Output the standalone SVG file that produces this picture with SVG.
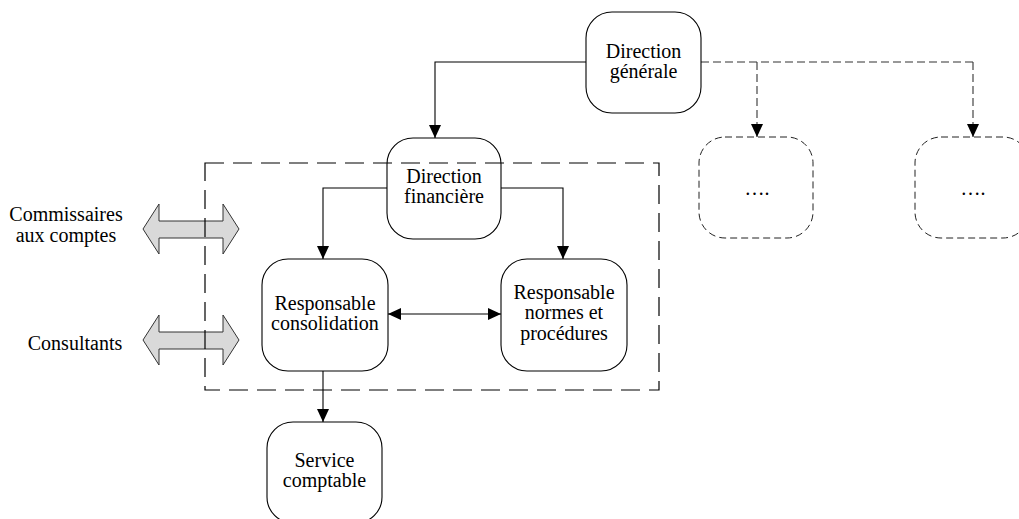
<svg xmlns="http://www.w3.org/2000/svg" width="1019" height="519" viewBox="0 0 1019 519">
  <style>
    .node { fill: #ffffff; stroke: #000; stroke-width: 1.1; }
    .ghost { fill: none; stroke: #222; stroke-width: 1; stroke-dasharray: 7 4; }
    .lbl { font-family: "Liberation Serif", "Times New Roman", serif; font-size: 20px; fill: #000; text-anchor: middle; }
    .wire { fill: none; stroke: #000; stroke-width: 1.1; }
    .wire-dash { fill: none; stroke: #333; stroke-width: 1.1; stroke-dasharray: 8 4; }
    .frame { fill: none; stroke: #000; stroke-width: 1.2; stroke-dasharray: 19 9; }
    .block { fill: #d9d9d9; stroke: #333; stroke-width: 1; }
  </style>
  <defs>
    <marker id="tip" viewBox="0 0 13 12" refX="13" refY="6" markerWidth="13" markerHeight="12" markerUnits="userSpaceOnUse" orient="auto-start-reverse">
      <path d="M0,0 L13,6 L0,12 Z" fill="#000"/>
    </marker>
  </defs>
  <rect width="1019" height="519" fill="#ffffff"/>

  <!-- external parties: double block arrows -->
  <g id="ext-commissaires">
    <path class="block" d="M143,229 L159,204 L159,221 L223,221 L223,204 L239,229 L223,254 L223,238 L159,238 L159,254 Z"/>
    <text class="lbl" x="66" y="221">Commissaires</text>
    <text class="lbl" x="66" y="242">aux comptes</text>
  </g>
  <g id="ext-consultants">
    <path class="block" d="M143,340 L159,315 L159,332 L223,332 L223,315 L239,340 L223,365 L223,349 L159,349 L159,365 Z"/>
    <text class="lbl" x="75" y="350">Consultants</text>
  </g>

  <!-- connectors -->
  <g id="connectors">
    <path class="wire" d="M586,62 H435 V138" marker-end="url(#tip)"/>
    <path class="wire-dash" d="M701,62 H973"/>
    <path class="wire-dash" d="M757,62 V137" marker-end="url(#tip)"/>
    <path class="wire-dash" d="M973,62 V137" marker-end="url(#tip)"/>
    <path class="wire" d="M387,188 H323 V259" marker-end="url(#tip)"/>
    <path class="wire" d="M501,188 H563 V259" marker-end="url(#tip)"/>
    <path class="wire" d="M388,314 H501" marker-start="url(#tip)" marker-end="url(#tip)"/>
    <path class="wire" d="M323,371 V422" marker-end="url(#tip)"/>
  </g>

  <g id="direction-generale">
    <rect class="node" x="586" y="12" width="115" height="101" rx="26"/>
    <text class="lbl" x="643.5" y="58">Direction</text>
    <text class="lbl" x="643.5" y="78">générale</text>
  </g>
  <g id="other-1">
    <rect class="ghost" x="699" y="137" width="114" height="101" rx="26"/>
    <text class="lbl" x="757" y="195">….</text>
  </g>
  <g id="other-2">
    <rect class="ghost" x="915" y="137" width="114" height="101" rx="26"/>
    <text class="lbl" x="973" y="195">….</text>
  </g>
  <g id="direction-financiere">
    <rect class="node" x="387" y="138" width="114" height="101" rx="26"/>
    <text class="lbl" x="444" y="183">Direction</text>
    <text class="lbl" x="444" y="203">financière</text>
  </g>
  <g id="resp-consolidation">
    <rect class="node" x="262" y="259" width="126" height="112" rx="26"/>
    <text class="lbl" x="325" y="310">Responsable</text>
    <text class="lbl" x="325" y="330">consolidation</text>
  </g>
  <g id="resp-normes">
    <rect class="node" x="501" y="259" width="126" height="112" rx="26"/>
    <text class="lbl" x="564" y="299">Responsable</text>
    <text class="lbl" x="564" y="319">normes et</text>
    <text class="lbl" x="564" y="340">procédures</text>
  </g>
  <g id="service-comptable">
    <rect class="node" x="267" y="422" width="115" height="101" rx="26"/>
    <text class="lbl" x="324.5" y="467">Service</text>
    <text class="lbl" x="324.5" y="487">comptable</text>
  </g>

  <!-- finance department boundary -->
  <g id="finance-scope">
    <rect class="frame" x="205" y="163" width="454" height="227"/>
  </g>
</svg>
